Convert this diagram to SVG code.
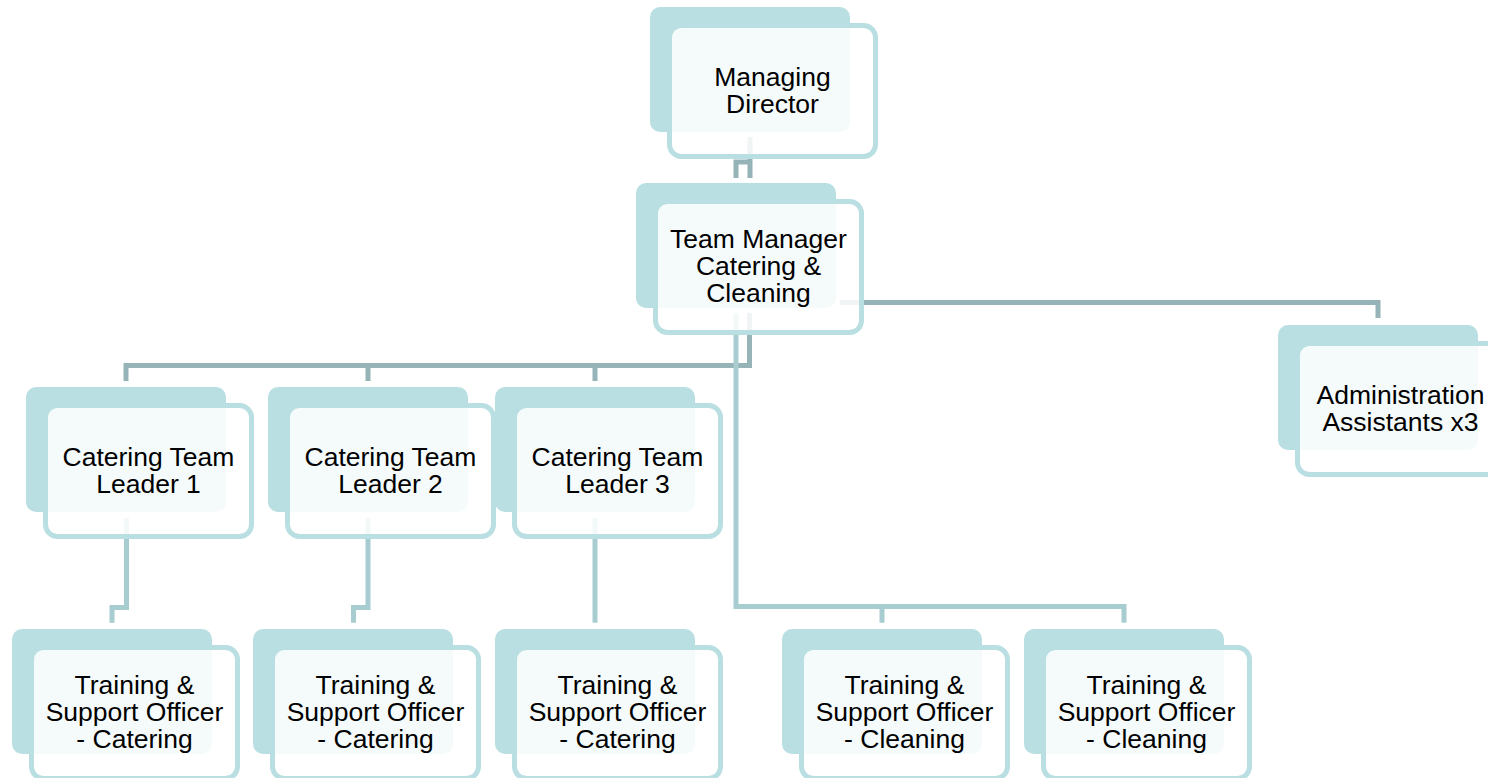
<svg xmlns="http://www.w3.org/2000/svg" width="1488" height="778" viewBox="0 0 1488 778">
<style>
.back{fill:#B9DFE2}
.front{fill:#FFFFFF;fill-opacity:0.86;stroke:#B9DFE2;stroke-width:5}
.lbl{font-family:"Liberation Sans",Arial,sans-serif;font-size:26.5px;fill:#000000;text-anchor:middle}
.dark{fill:none;stroke:#96B3B7;stroke-width:5;stroke-linejoin:miter;stroke-linecap:butt}
.light{fill:none;stroke:#A8CDD0;stroke-width:5;stroke-linejoin:miter;stroke-linecap:butt}
</style>
<rect width="1488" height="778" fill="#FFFFFF"/>
<g id="connectors">
<path class="dark" d="M750,137 V178 M736,178 V162 H750"/>
<path class="dark" d="M126,381 V365.5 H749.5 V313"/>
<path class="dark" d="M368,365.5 V381 M595,365.5 V381"/>
<path class="dark" d="M840,302.5 H1378 V318"/>
<path class="light" d="M736,313 V606.5 H1124 V622.7 M882,606.5 V622.7"/>
<path class="light" d="M126.5,518 V607.5 H112 V622.7"/>
<path class="light" d="M368,518 V607.5 H353.5 V622.7"/>
<path class="light" d="M595,518 V622.7"/>
</g>
<g id="node-managing-director" transform="translate(650,7)">
<rect class="back" x="0" y="0" width="200" height="125" rx="10"/>
<rect class="front" x="19.5" y="18.5" width="206" height="131" rx="12"/>
<text class="lbl"><tspan x="122.5" y="78.5">Managing</tspan><tspan x="122.5" y="105.5">Director</tspan></text>
</g>
<g id="node-team-manager" transform="translate(636,183)">
<rect class="back" x="0" y="0" width="200" height="125" rx="10"/>
<rect class="front" x="19.5" y="18.5" width="206" height="131" rx="12"/>
<text class="lbl"><tspan x="122.5" y="65">Team Manager</tspan><tspan x="122.5" y="92">Catering &amp;</tspan><tspan x="122.5" y="119">Cleaning</tspan></text>
</g>
<g id="node-admin" transform="translate(1278,325)">
<rect class="back" x="0" y="0" width="200" height="125" rx="10"/>
<rect class="front" x="19.5" y="18.5" width="206" height="131" rx="12"/>
<text class="lbl"><tspan x="122.5" y="78.5">Administration</tspan><tspan x="122.5" y="105.5">Assistants x3</tspan></text>
</g>
<g id="node-ctl1" transform="translate(26,387)">
<rect class="back" x="0" y="0" width="200" height="125" rx="10"/>
<rect class="front" x="19.5" y="18.5" width="206" height="131" rx="12"/>
<text class="lbl"><tspan x="122.5" y="78.5">Catering Team</tspan><tspan x="122.5" y="105.5">Leader 1</tspan></text>
</g>
<g id="node-ctl2" transform="translate(268,387)">
<rect class="back" x="0" y="0" width="200" height="125" rx="10"/>
<rect class="front" x="19.5" y="18.5" width="206" height="131" rx="12"/>
<text class="lbl"><tspan x="122.5" y="78.5">Catering Team</tspan><tspan x="122.5" y="105.5">Leader 2</tspan></text>
</g>
<g id="node-ctl3" transform="translate(495,387)">
<rect class="back" x="0" y="0" width="200" height="125" rx="10"/>
<rect class="front" x="19.5" y="18.5" width="206" height="131" rx="12"/>
<text class="lbl"><tspan x="122.5" y="78.5">Catering Team</tspan><tspan x="122.5" y="105.5">Leader 3</tspan></text>
</g>
<g id="node-tso-catering-1" transform="translate(12,629)">
<rect class="back" x="0" y="0" width="200" height="125" rx="10"/>
<rect class="front" x="19.5" y="18.5" width="206" height="131" rx="12"/>
<text class="lbl"><tspan x="122.5" y="65">Training &amp;</tspan><tspan x="122.5" y="92">Support Officer</tspan><tspan x="122.5" y="119">- Catering</tspan></text>
</g>
<g id="node-tso-catering-2" transform="translate(253,629)">
<rect class="back" x="0" y="0" width="200" height="125" rx="10"/>
<rect class="front" x="19.5" y="18.5" width="206" height="131" rx="12"/>
<text class="lbl"><tspan x="122.5" y="65">Training &amp;</tspan><tspan x="122.5" y="92">Support Officer</tspan><tspan x="122.5" y="119">- Catering</tspan></text>
</g>
<g id="node-tso-catering-3" transform="translate(495,629)">
<rect class="back" x="0" y="0" width="200" height="125" rx="10"/>
<rect class="front" x="19.5" y="18.5" width="206" height="131" rx="12"/>
<text class="lbl"><tspan x="122.5" y="65">Training &amp;</tspan><tspan x="122.5" y="92">Support Officer</tspan><tspan x="122.5" y="119">- Catering</tspan></text>
</g>
<g id="node-tso-cleaning-1" transform="translate(782,629)">
<rect class="back" x="0" y="0" width="200" height="125" rx="10"/>
<rect class="front" x="19.5" y="18.5" width="206" height="131" rx="12"/>
<text class="lbl"><tspan x="122.5" y="65">Training &amp;</tspan><tspan x="122.5" y="92">Support Officer</tspan><tspan x="122.5" y="119">- Cleaning</tspan></text>
</g>
<g id="node-tso-cleaning-2" transform="translate(1024,629)">
<rect class="back" x="0" y="0" width="200" height="125" rx="10"/>
<rect class="front" x="19.5" y="18.5" width="206" height="131" rx="12"/>
<text class="lbl"><tspan x="122.5" y="65">Training &amp;</tspan><tspan x="122.5" y="92">Support Officer</tspan><tspan x="122.5" y="119">- Cleaning</tspan></text>
</g>
</svg>
